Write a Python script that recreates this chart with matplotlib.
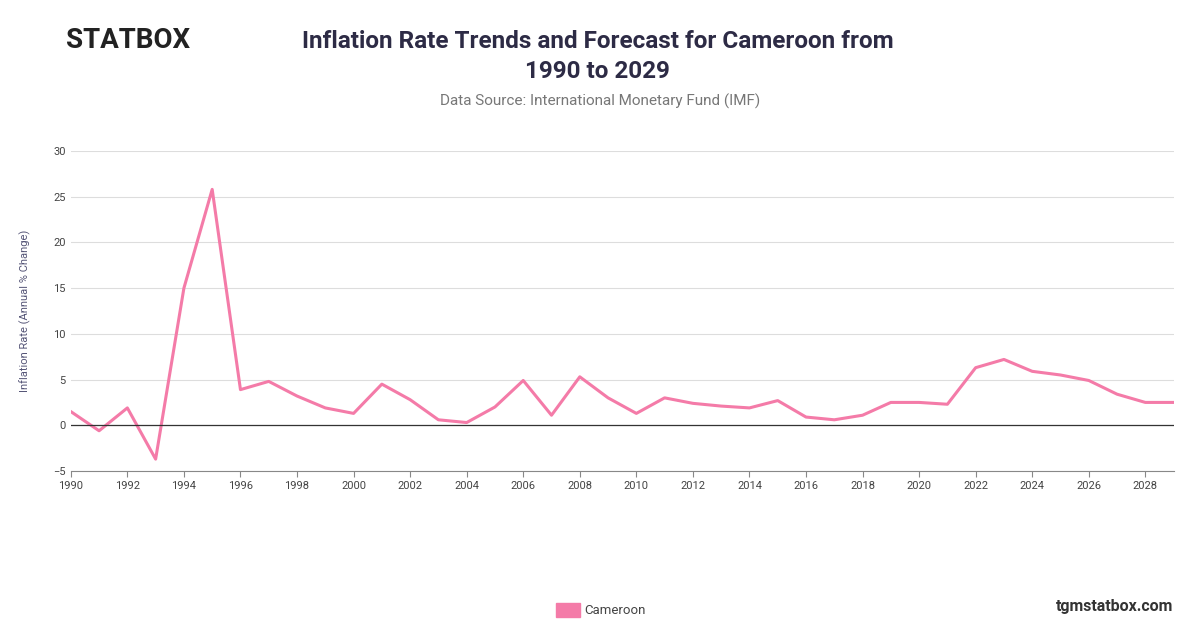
import matplotlib.pyplot as plt
from matplotlib.patches import Rectangle

years = list(range(1990, 2030))
inflation = [1.5, -0.6, 1.9, -3.7, 15.0, 25.8, 3.9, 4.8, 3.2, 1.9,
             1.3, 4.5, 2.8, 0.6, 0.3, 2.0, 4.9, 1.1, 5.3, 3.0,
             1.3, 3.0, 2.4, 2.1, 1.9, 2.7, 0.9, 0.6, 1.1, 2.5,
             2.5, 2.3, 6.3, 7.2, 5.9, 5.5, 4.9, 3.4, 2.5, 2.5]
xticks = list(range(1990, 2029, 2))
yticks = [-5, 0, 5, 10, 15, 20, 25, 30]

pink = '#f47ba8'
plt.rcParams['font.family'] = ['Roboto', 'DejaVu Sans']

fig = plt.figure(figsize=(12, 6.28), dpi=100)
ax = fig.add_axes([0.059, 0.25, 0.919, 0.5096])
ax.plot(years, inflation, color=pink, lw=2.2)
ax.set_xlim(1990, 2029)
ax.set_ylim(-5, 30)
ax.set_xticks(xticks)
ax.set_yticks(yticks)
ax.grid(axis='y', color='#dddddd', lw=0.8)
ax.axhline(0, color='#333333', lw=0.9)
for s in ax.spines.values():
    s.set_visible(False)
ax.spines['bottom'].set_visible(True)
ax.spines['bottom'].set_color('#888888')
ax.tick_params(axis='both', labelsize=8, colors='#444444', length=0)
ax.tick_params(axis='x', length=4, color='#888888')
ax.set_ylabel('Inflation Rate (Annual % Change)', fontsize=8, color='#555577', labelpad=16)

fig.text(0.498, 0.91, 'Inflation Rate Trends and Forecast for Cameroon from\n1990 to 2029',
         ha='center', va='center', fontsize=17.5, fontweight='bold', color='#2d2b45', linespacing=1.4)
fig.text(0.5, 0.838, 'Data Source: International Monetary Fund (IMF)', ha='center', va='center',
         fontsize=11, color='#777777')
fig.text(0.055, 0.935, 'STATBOX', ha='left', va='center', fontsize=20, fontweight='bold', color='#222222')
fig.text(0.978, 0.035, 'tgmstatbox.com', ha='right', va='center', fontsize=11.5,
         fontweight='bold', color='#333333')
fig.patches.append(Rectangle((0.463, 0.018), 0.02, 0.022, transform=fig.transFigure,
                             color=pink, figure=fig))
fig.text(0.487, 0.028, 'Cameroon', ha='left', va='center', fontsize=9.5, color='#444444')

fig.savefig('out.png')
